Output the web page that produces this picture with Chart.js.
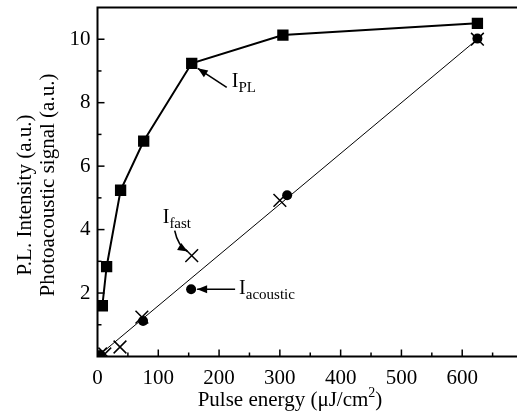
<!DOCTYPE html>
<html><head><meta charset="utf-8">
<script src="https://cdn.jsdelivr.net/npm/chart.js@4"></script>
<style>
html,body{margin:0;padding:0;background:#fff;overflow:hidden;width:517px;height:418px}
#wrap{position:absolute;left:0;top:0;width:523px;height:418px}
</style>
</head><body><div id="wrap"><canvas id="c" width="523" height="418"></canvas></div>
<script>
// ---- data ----
const plX = [8, 15, 38, 76, 155, 305, 625];
const plY = [1.6, 2.83, 5.24, 6.79, 9.24, 10.13, 10.5];
const fastX = [5, 12, 37, 73, 155, 300, 625];
const fastY = [0.08, 0.08, 0.3, 1.24, 3.18, 4.92, 10.0];
const acX = [5, 75, 154, 312, 625];
const acY = [0.05, 1.12, 2.12, 5.08, 10.02];
const fitX = [0, 625];
const fitY = [0, 10];
const xTickLabels = [0, 100, 200, 300, 400, 500, 600];
const yTickLabels = [2, 4, 6, 8, 10];
const xTitle = 'Pulse energy (\u03bcJ/cm';
const xTitleSup = '2';
const yTitle1 = 'P.L. Intensity (a.u.)';
const yTitle2 = 'Photoacoustic signal (a.u.)';

const pts = (xs, ys) => xs.map((x, i) => ({x: x, y: ys[i]}));
const SERIF = "'Liberation Serif', 'DejaVu Serif', serif";

const framePlugin = {
  id: 'frame',
  beforeDatasetsDraw(chart) {
    const {ctx, chartArea: a, scales: {x, y}} = chart;
    ctx.save();
    ctx.strokeStyle = '#000';
    ctx.lineWidth = 2;
    ctx.beginPath();
    ctx.moveTo(a.right + 5, a.top); ctx.lineTo(a.left, a.top);
    ctx.lineTo(a.left, a.bottom); ctx.lineTo(a.right + 5, a.bottom);
    ctx.stroke();
    ctx.lineWidth = 1.5;
    x.ticks.forEach(t => {
      const px = x.getPixelForValue(t.value);
      if (t.value <= 0) return;
      const len = (t.value % 100 === 0) ? 7 : 4;
      ctx.beginPath(); ctx.moveTo(px, a.bottom); ctx.lineTo(px, a.bottom - len); ctx.stroke();
    });
    y.ticks.forEach(t => {
      const py = y.getPixelForValue(t.value);
      if (t.value <= 0 || t.value >= 11) return;
      const len = (t.value % 2 === 0) ? 7 : 4;
      ctx.beginPath(); ctx.moveTo(a.left, py); ctx.lineTo(a.left + len, py); ctx.stroke();
    });
    ctx.restore();
  },
  afterDatasetsDraw(chart) {
    const {ctx, scales: {x, y}} = chart;
    ctx.save();
    ctx.fillStyle = '#000'; ctx.strokeStyle = '#000';
    const arrow = (x0, y0, x1, y1, cx, cy) => {
      ctx.lineWidth = 1.6;
      ctx.beginPath(); ctx.moveTo(x0, y0);
      if (cx !== undefined) ctx.quadraticCurveTo(cx, cy, x1, y1); else ctx.lineTo(x1, y1);
      ctx.stroke();
      const ang = (cx !== undefined) ? Math.atan2(y1 - cy, x1 - cx) : Math.atan2(y1 - y0, x1 - x0);
      const L = 10, W = 4;
      ctx.beginPath();
      ctx.moveTo(x1, y1);
      ctx.lineTo(x1 - L * Math.cos(ang) + W * Math.sin(ang), y1 - L * Math.sin(ang) - W * Math.cos(ang));
      ctx.lineTo(x1 - L * Math.cos(ang) - W * Math.sin(ang), y1 - L * Math.sin(ang) + W * Math.cos(ang));
      ctx.closePath(); ctx.fill();
    };
    const label = (sx, sy, sub) => {
      ctx.textAlign = 'left'; ctx.textBaseline = 'alphabetic';
      ctx.font = '20px ' + SERIF;
      ctx.fillText('I', sx, sy);
      const w = ctx.measureText('I').width;
      ctx.font = '15px ' + SERIF;
      ctx.fillText(sub, sx + w, sy + 5);
    };
    // I_PL
    let px = x.getPixelForValue(plX[4]), py = y.getPixelForValue(plY[4]);
    arrow(px + 35, py + 24, px + 6, py + 5);
    label(px + 40, py + 24, 'PL');
    // I_fast
    px = x.getPixelForValue(fastX[4]); py = y.getPixelForValue(fastY[4]);
    arrow(px - 17, py - 25, px - 4, py - 4, px - 14, py - 10);
    label(px - 29, py - 33, 'fast');
    // I_acoustic
    px = x.getPixelForValue(acX[2]); py = y.getPixelForValue(acY[2]);
    arrow(px + 44, py, px + 6, py);
    label(px + 48, py + 5, 'acoustic');
    // axis titles
    ctx.font = '21px ' + SERIF;
    ctx.textBaseline = 'alphabetic';
    const w1 = ctx.measureText(xTitle).width;
    ctx.font = '14px ' + SERIF;
    const w2 = ctx.measureText(xTitleSup).width;
    ctx.font = '21px ' + SERIF;
    const w3 = ctx.measureText(')').width;
    let tx = 290 - (w1 + w2 + w3) / 2;
    ctx.textAlign = 'left';
    ctx.fillText(xTitle, tx, 406);
    ctx.font = '14px ' + SERIF;
    ctx.fillText(xTitleSup, tx + w1, 397);
    ctx.font = '21px ' + SERIF;
    ctx.fillText(')', tx + w1 + w2, 406);
    ctx.textAlign = 'center'; ctx.textBaseline = 'middle';
    ctx.save(); ctx.translate(25, 195); ctx.rotate(-Math.PI / 2); ctx.fillText(yTitle1, 0, 0); ctx.restore();
    ctx.save(); ctx.translate(48, 185); ctx.rotate(-Math.PI / 2); ctx.fillText(yTitle2, 0, 0); ctx.restore();
    ctx.restore();
  }
};

new Chart(document.getElementById('c'), {
  type: 'scatter',
  data: {
    datasets: [
      {label: 'I_PL', data: pts(plX, plY), showLine: true, borderColor: '#000', backgroundColor: '#000',
       borderWidth: 2, pointStyle: 'rect', pointRadius: 8, pointBorderWidth: 0, pointBackgroundColor: '#000'},
      {label: 'I_acoustic', data: pts(acX, acY), showLine: false, pointStyle: 'circle', pointRadius: 5,
       pointBackgroundColor: '#000', pointBorderColor: '#000', pointBorderWidth: 0},
      {label: 'I_fast', data: pts(fastX, fastY), showLine: false, pointStyle: 'crossRot', pointRadius: 9,
       pointBorderColor: '#000', pointBorderWidth: 1.5, borderColor: '#000'},
      {label: 'fit', data: pts(fitX, fitY), showLine: true, borderColor: '#000', borderWidth: 1, pointRadius: 0}
    ]
  },
  options: {
    responsive: false, animation: false, devicePixelRatio: 1,
    layout: {autoPadding: false, padding: {left: 0, top: 7.5, right: 0, bottom: 0}},
    plugins: {legend: {display: false}, tooltip: {enabled: false}},
    scales: {
      x: {
        type: 'linear', min: 0, max: 700,
        afterFit: s => { s.height = 61.5; s.paddingLeft = 0; s.paddingRight = 0; },
        grid: {display: false, drawTicks: false}, border: {display: false},
        ticks: {stepSize: 50, padding: 9, color: '#000', font: {family: SERIF, size: 21},
                maxRotation: 0, autoSkip: false,
                callback: v => xTickLabels.includes(v) ? String(v) : ''}
      },
      y: {
        type: 'linear', min: 0, max: 11,
        afterFit: s => { s.width = 97.5; s.paddingTop = 0; s.paddingBottom = 0; },
        grid: {display: false, drawTicks: false}, border: {display: false},
        ticks: {stepSize: 1, padding: 7, color: '#000', font: {family: SERIF, size: 21}, autoSkip: false,
                callback: v => yTickLabels.includes(v) ? String(v) : ''}
      }
    }
  },
  plugins: [framePlugin]
});
</script>
</body></html>
